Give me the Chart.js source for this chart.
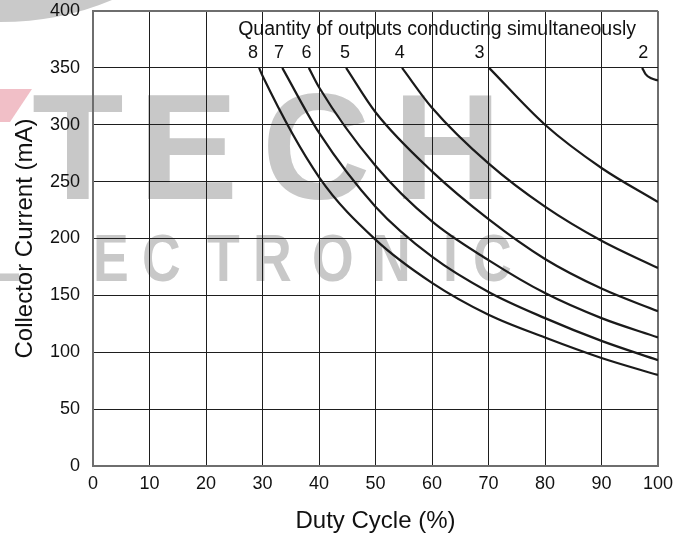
<!DOCTYPE html>
<html>
<head>
<meta charset="utf-8">
<script src="https://cdn.jsdelivr.net/npm/chart.js@4.4.1/dist/chart.umd.min.js"></script>
<style>
html,body{margin:0;padding:0;background:#fff;}
#wrap{width:683px;height:537px;position:relative;}
canvas{display:block;}
</style>
</head>
<body>
<div id="wrap"><canvas id="c" width="683" height="537"></canvas></div>
<script>
// ---- tick labels ----
const xTickValues = [0, 10, 20, 30, 40, 50, 60, 70, 80, 90, 100];
const yTickValues = [0, 50, 100, 150, 200, 250, 300, 350, 400];

// ---- curves: duty cycle (%) vs collector current (mA) ----
const duty2 = [97.2, 97.8, 98.8, 100];
const current2 = [350, 344.5, 340.8, 339];

const duty3 = [70.1, 80, 90, 100];
const current3 = [350, 300, 262, 232];

const duty4 = [54.7, 60, 70, 80, 90, 100];
const current4 = [350, 315, 266, 228, 198, 174];

const duty5 = [44.8, 50, 60, 70, 80, 90, 100];
const current5 = [350, 311, 259, 217, 182, 156, 136];

const duty6 = [38.2, 40, 50, 60, 70, 80, 90, 100];
const current6 = [350, 333, 264, 215, 181, 152, 130, 113];

const duty7 = [33.5, 40, 50, 60, 70, 80, 90, 100];
const current7 = [350, 293, 228, 184, 153, 130, 110, 93];

const duty8 = [29.4, 30, 40, 50, 60, 70, 80, 90, 100];
const current8 = [350, 343, 254, 199, 161, 133, 113, 95, 80];

// ---- annotation texts ----
const quantityTitle = 'Quantity of outputs conducting simultaneously';
const outputLabels = ['8', '7', '6', '5', '4', '3', '2'];
const outputLabelDuty = [28.3, 32.9, 37.8, 44.6, 54.3, 68.4, 97.4];
const outputLabelCurrent = 362.8;
const quantityTitleDuty = 60.9;
const quantityTitleCurrent = 383.3;

const FONT = '"Liberation Sans", Arial, Helvetica, sans-serif';
const GRAY_FRAME = '#6e6e6e';
const GRID = '#1e1e1e';

function series(dx, dy) { return dx.map((v, i) => ({x: v, y: dy[i]})); }

const curves = [
  series(duty8, current8), series(duty7, current7), series(duty6, current6),
  series(duty5, current5), series(duty4, current4), series(duty3, current3),
  series(duty2, current2)
];

const watermark = {
  id: 'watermark',
  beforeDraw(chart) {
    const ctx = chart.ctx;
    ctx.save();
    ctx.fillStyle = '#ffffff';
    ctx.fillRect(0, 0, chart.width, chart.height);
    ctx.fillStyle = '#c9c9c9';
    ctx.beginPath();
    ctx.moveTo(0, 0); ctx.lineTo(112, 0);
    ctx.quadraticCurveTo(60, 22, 0, 22);
    ctx.closePath(); ctx.fill();
    ctx.fillStyle = '#f1bfc7';
    ctx.beginPath();
    ctx.moveTo(0, 89); ctx.lineTo(32, 89); ctx.lineTo(10, 122); ctx.lineTo(0, 122);
    ctx.closePath(); ctx.fill();
    ctx.fillStyle = '#c8c8c8';
    ctx.textBaseline = 'alphabetic';
    ctx.textAlign = 'left';
    ctx.font = 'bold 150px ' + FONT;
    [['T', 32], ['E', 138], ['C', 262], ['H', 393]].forEach(([ch, lx]) => ctx.fillText(ch, lx, 199));
    const small = [['L', -12], ['E', 93], ['C', 142], ['T', 207], ['R', 253], ['O', 312], ['N', 372], ['I', 443], ['C', 473]];
    ctx.font = 'bold 67px ' + FONT;
    small.forEach(([ch, lx]) => {
      ctx.save();
      ctx.translate(lx, 281);
      ctx.scale(0.8, 1);
      ctx.fillText(ch, 0, 0);
      ctx.restore();
    });
    ctx.restore();
  }
};

const annotations = {
  id: 'annotations',
  afterDatasetsDraw(chart) {
    const {ctx, scales: {x, y}} = chart;
    ctx.save();
    ctx.fillStyle = '#111111';
    ctx.textAlign = 'center';
    ctx.textBaseline = 'middle';
    ctx.font = '19.5px ' + FONT;
    ctx.fillText(quantityTitle, x.getPixelForValue(quantityTitleDuty), y.getPixelForValue(quantityTitleCurrent));
    ctx.font = '18px ' + FONT;
    outputLabels.forEach((t, i) => {
      ctx.fillText(t, x.getPixelForValue(outputLabelDuty[i]), y.getPixelForValue(outputLabelCurrent));
    });
    ctx.restore();
  }
};

new Chart(document.getElementById('c'), {
  type: 'line',
  data: {
    datasets: curves.map((d, i) => ({
      label: outputLabels[i],
      data: d,
      borderColor: '#1a1a1a',
      borderWidth: 2.2,
      pointRadius: 0,
      fill: false,
      cubicInterpolationMode: 'monotone'
    }))
  },
  options: {
    responsive: false,
    animation: false,
    devicePixelRatio: 1,
    layout: {padding: {left: 0, right: 25, top: 11, bottom: 0}},
    plugins: {legend: {display: false}, tooltip: {enabled: false}},
    scales: {
      x: {
        type: 'linear',
        min: 0, max: 100,
        afterBuildTicks: s => { s.ticks = xTickValues.map(v => ({value: v})); },
        afterFit: s => { s.height = 71; },
        grid: {
          drawTicks: false,
          color: c => (c.tick && (c.tick.value === 0 || c.tick.value === 100)) ? GRAY_FRAME : GRID,
          lineWidth: c => (c.tick && (c.tick.value === 0 || c.tick.value === 100)) ? 2 : 1
        },
        border: {display: true, color: GRAY_FRAME, width: 2},
        ticks: {color: '#111', font: {family: FONT, size: 18}, padding: 7, maxRotation: 0},
        title: {display: true, text: 'Duty Cycle (%)', color: '#111', font: {family: FONT, size: 24}, padding: {top: 0, bottom: 1}}
      },
      y: {
        type: 'linear',
        min: 0, max: 400,
        afterBuildTicks: s => { s.ticks = yTickValues.map(v => ({value: v})); },
        afterFit: s => { s.width = 93; s.paddingTop = 0; s.paddingBottom = 0; },
        grid: {
          drawTicks: true,
          tickLength: 13,
          tickColor: 'rgba(0,0,0,0)',
          color: c => (c.tick && (c.tick.value === 0 || c.tick.value === 400)) ? GRAY_FRAME : GRID,
          lineWidth: c => (c.tick && (c.tick.value === 0 || c.tick.value === 400)) ? 2 : 1
        },
        border: {display: true, color: GRAY_FRAME, width: 2},
        ticks: {color: '#111', font: {family: FONT, size: 18}, padding: 0},
        title: {display: true, text: 'Collector Current (mA)', color: '#111', font: {family: FONT, size: 24}, padding: {top: 11, bottom: 0}}
      }
    }
  },
  plugins: [watermark, annotations]
});
</script>
</body>
</html>
